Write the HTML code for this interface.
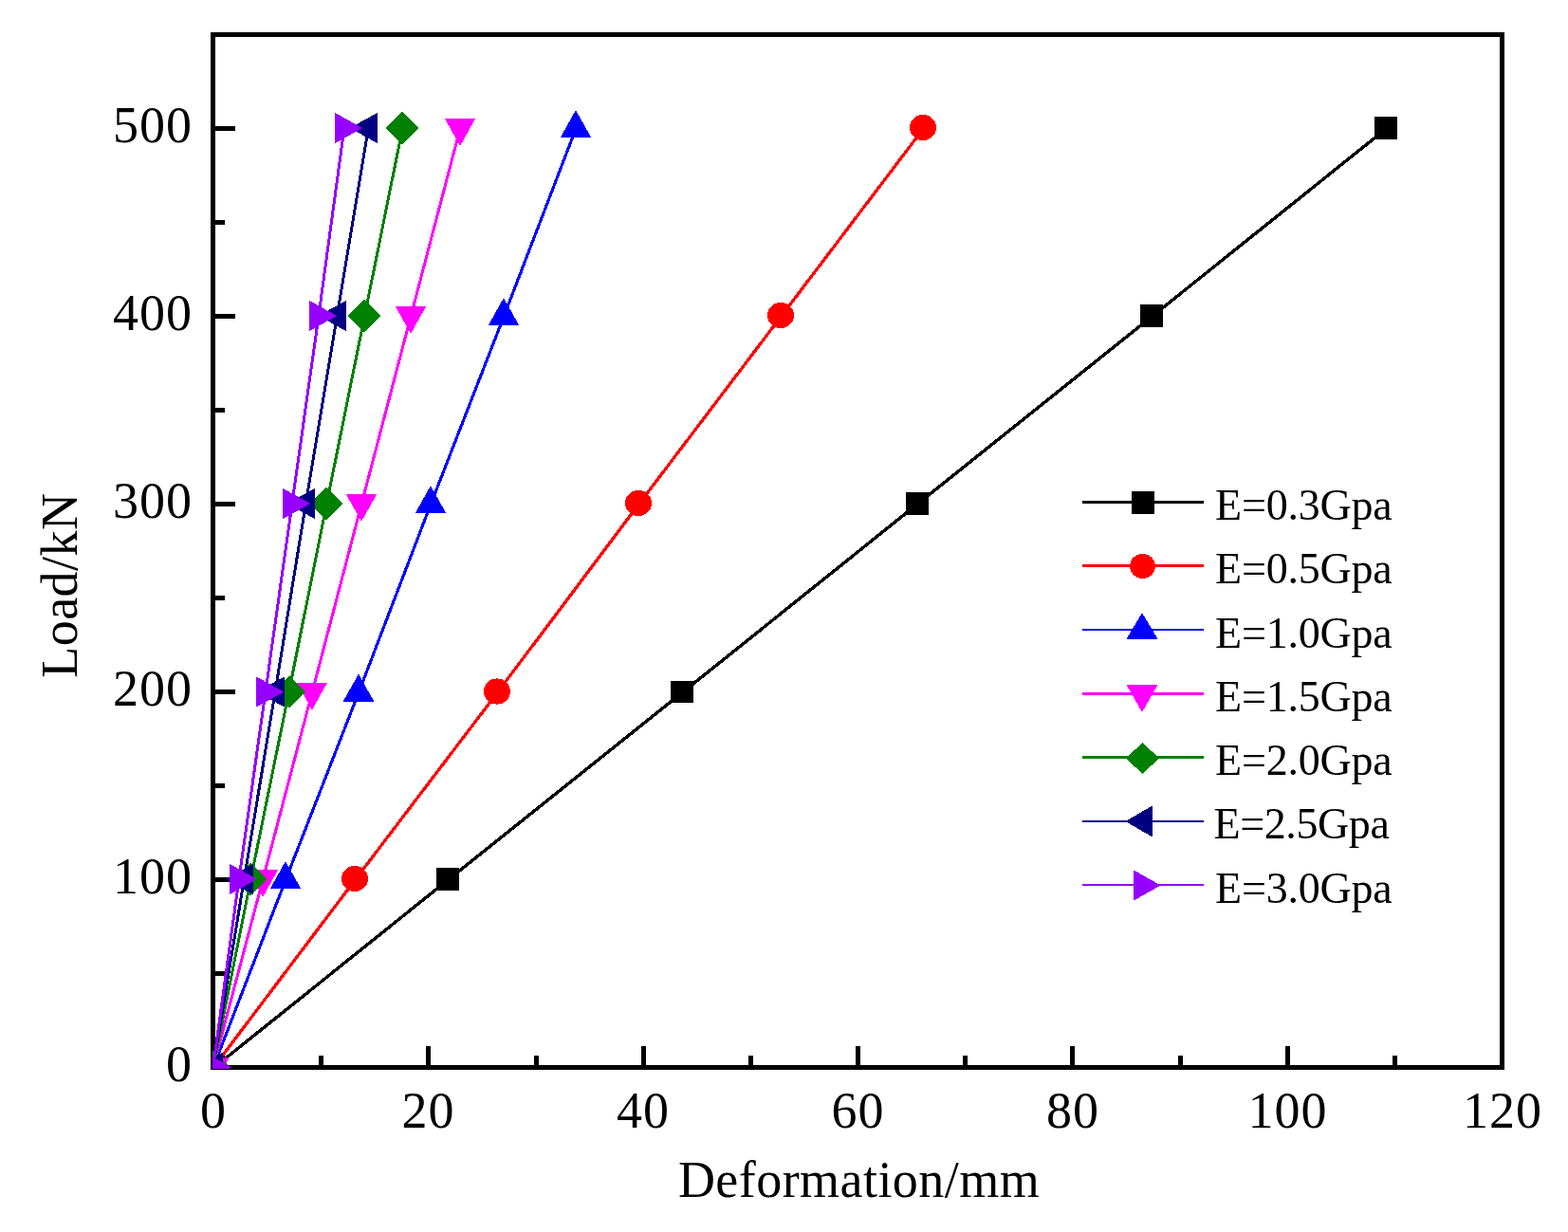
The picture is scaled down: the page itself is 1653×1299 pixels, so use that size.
<!DOCTYPE html>
<html lang="en">
<head>
<meta charset="utf-8">
<title>Load-deformation curves</title>
<style>
html,body{margin:0;padding:0;background:#fff;}
body{width:1653px;height:1299px;overflow:hidden;}
svg{display:block;}
text{font-family:"Liberation Serif","Times New Roman",serif;fill:#000;}
.t{font-size:54px;letter-spacing:1px;}
.a{font-size:54px;letter-spacing:0.45px;}
.g{font-size:46px;letter-spacing:-0.2px;}
</style>
</head>
<body>
<svg width="1653" height="1299" viewBox="0 0 1653 1299">
<rect x="0" y="0" width="1653" height="1299" fill="#ffffff"/>
<g stroke="#000" stroke-width="5" fill="none" shape-rendering="crispEdges">
<rect x="224.5" y="36.5" width="1359" height="1089"/>
<line x1="338.67" y1="1113" x2="338.67" y2="1124"/>
<line x1="451.83" y1="1103" x2="451.83" y2="1124"/>
<line x1="565" y1="1113" x2="565" y2="1124"/>
<line x1="678.17" y1="1103" x2="678.17" y2="1124"/>
<line x1="791.33" y1="1113" x2="791.33" y2="1124"/>
<line x1="904.5" y1="1103" x2="904.5" y2="1124"/>
<line x1="1017.67" y1="1113" x2="1017.67" y2="1124"/>
<line x1="1130.83" y1="1103" x2="1130.83" y2="1124"/>
<line x1="1244" y1="1113" x2="1244" y2="1124"/>
<line x1="1357.17" y1="1103" x2="1357.17" y2="1124"/>
<line x1="1470.33" y1="1113" x2="1470.33" y2="1124"/>
<line x1="226" y1="1026.5" x2="237" y2="1026.5"/>
<line x1="226" y1="927.5" x2="248" y2="927.5"/>
<line x1="226" y1="828.5" x2="237" y2="828.5"/>
<line x1="226" y1="729.5" x2="248" y2="729.5"/>
<line x1="226" y1="630.5" x2="237" y2="630.5"/>
<line x1="226" y1="531.5" x2="248" y2="531.5"/>
<line x1="226" y1="432.5" x2="237" y2="432.5"/>
<line x1="226" y1="333.5" x2="248" y2="333.5"/>
<line x1="226" y1="234.5" x2="237" y2="234.5"/>
<line x1="226" y1="135.5" x2="248" y2="135.5"/>
</g>
<defs><clipPath id="plotclip"><rect x="224" y="0" width="1429" height="1127"/></clipPath></defs>
<g class="m" clip-path="url(#plotclip)" shape-rendering="crispEdges">
<polyline points="224.5,1126.56 472.3,927.76 719.3,730.26 966.8,531.76 1214.3,333.76 1461.3,135.76" fill="none" stroke="#000000" stroke-width="3.4"/>
<rect x="213.2" y="1113.4" width="24" height="23.5" fill="#000000"/>
<rect x="460" y="915" width="24" height="23.5" fill="#000000"/>
<rect x="707" y="717.5" width="24" height="23.5" fill="#000000"/>
<rect x="954.5" y="519" width="24" height="23.5" fill="#000000"/>
<rect x="1202" y="321" width="24" height="23.5" fill="#000000"/>
<rect x="1449" y="123" width="24" height="23.5" fill="#000000"/>
<polyline points="224.5,1126.3 374.55,927.5 524.55,730 673.55,531.5 823.55,333.5 973.55,135.5" fill="none" stroke="#ff0000" stroke-width="3.3"/>
<ellipse cx="225.2" cy="1124.9" rx="14" ry="13.6" fill="#ff0000"/>
<ellipse cx="374" cy="926.5" rx="14" ry="13.6" fill="#ff0000"/>
<ellipse cx="524" cy="729" rx="14" ry="13.6" fill="#ff0000"/>
<ellipse cx="673" cy="530.5" rx="14" ry="13.6" fill="#ff0000"/>
<ellipse cx="823" cy="332.5" rx="14" ry="13.6" fill="#ff0000"/>
<ellipse cx="973" cy="134.5" rx="14" ry="13.6" fill="#ff0000"/>
<polyline points="224.5,1126.3 301.2,927.5 378.2,730 454.2,531.5 531.2,333.5 607.2,135.5" fill="none" stroke="#0000ff" stroke-width="3.1"/>
<polygon points="225.2,1106.4 241.4,1135.4 209,1135.4" fill="#0000ff"/>
<polygon points="301,908 317.2,937 284.8,937" fill="#0000ff"/>
<polygon points="378,710.5 394.2,739.5 361.8,739.5" fill="#0000ff"/>
<polygon points="454,512 470.2,541 437.8,541" fill="#0000ff"/>
<polygon points="531,314 547.2,343 514.8,343" fill="#0000ff"/>
<polygon points="607,116 623.2,145 590.8,145" fill="#0000ff"/>
<polyline points="224.5,1126.3 277.1,927.5 329.1,730 381.1,531.5 433.1,333.5 485.1,135.5" fill="none" stroke="#ff00ff" stroke-width="3"/>
<polygon points="225.2,1144.4 241.4,1115.4 209,1115.4" fill="#ff00ff"/>
<polygon points="277,946 293.2,917 260.8,917" fill="#ff00ff"/>
<polygon points="329,748.5 345.2,719.5 312.8,719.5" fill="#ff00ff"/>
<polygon points="381,550 397.2,521 364.8,521" fill="#ff00ff"/>
<polygon points="433,352 449.2,323 416.8,323" fill="#ff00ff"/>
<polygon points="485,154 501.2,125 468.8,125" fill="#ff00ff"/>
<polyline points="224.5,1126.3 264.3,927.5 304.5,730 344.3,531.5 384.3,333.5 424.3,135.5" fill="none" stroke="#008000" stroke-width="3"/>
<polygon points="225.2,1108 242.6,1125.4 225.2,1142.8 207.8,1125.4" fill="#008000"/>
<polygon points="264,909.6 281.4,927 264,944.4 246.6,927" fill="#008000"/>
<polygon points="305,712.1 322.4,729.5 305,746.9 287.6,729.5" fill="#008000"/>
<polygon points="344,513.6 361.4,531 344,548.4 326.6,531" fill="#008000"/>
<polygon points="384,315.6 401.4,333 384,350.4 366.6,333" fill="#008000"/>
<polygon points="424,117.6 441.4,135 424,152.4 406.6,135" fill="#008000"/>
<polyline points="224.5,1126.3 257.3,927.5 290,730 322.3,531.5 355.3,333.5 388.3,135.5" fill="none" stroke="#000080" stroke-width="3"/>
<polygon points="206,1125.4 235.2,1109.2 235.2,1141.6" fill="#000080"/>
<polygon points="237.8,927 267,910.8 267,943.2" fill="#000080"/>
<polygon points="270.8,729.5 300,713.3 300,745.7" fill="#000080"/>
<polygon points="302.8,531 332,514.8 332,547.2" fill="#000080"/>
<polygon points="335.8,333 365,316.8 365,349.2" fill="#000080"/>
<polygon points="368.8,135 398,118.8 398,151.2" fill="#000080"/>
<polyline points="224.5,1126.3 251.85,927.5 279.85,730 307.85,531.5 335.85,333.5 362.85,135.5" fill="none" stroke="#9600ff" stroke-width="3"/>
<polygon points="244.4,1125.4 215.2,1109.2 215.2,1141.6" fill="#9600ff"/>
<polygon points="271.2,927 242,910.8 242,943.2" fill="#9600ff"/>
<polygon points="299.2,729.5 270,713.3 270,745.7" fill="#9600ff"/>
<polygon points="327.2,531 298,514.8 298,547.2" fill="#9600ff"/>
<polygon points="355.2,333 326,316.8 326,349.2" fill="#9600ff"/>
<polygon points="382.2,135 353,118.8 353,151.2" fill="#9600ff"/>
</g>
<g class="t" text-anchor="end">
<text x="203" y="1140">0</text>
<text x="203" y="942">100</text>
<text x="203" y="744">200</text>
<text x="203" y="546">300</text>
<text x="203" y="348">400</text>
<text x="203" y="150">500</text>
</g>
<g class="t" text-anchor="middle">
<text x="225" y="1189">0</text>
<text x="451.5" y="1189">20</text>
<text x="678" y="1189">40</text>
<text x="904.5" y="1189">60</text>
<text x="1131" y="1189">80</text>
<text x="1357.5" y="1189">100</text>
<text x="1584" y="1189">120</text>
</g>
<g class="a" text-anchor="middle">
<text x="905.5" y="1261.5">Deformation/mm</text>
<text transform="translate(81 617.2) rotate(-90)" x="0" y="0">Load/kN</text>
</g>
<g class="m" shape-rendering="crispEdges">
<line x1="1141" y1="529.5" x2="1269" y2="529.5" stroke="#000000" stroke-width="3"/>
<line x1="1141" y1="596.5" x2="1269" y2="596.5" stroke="#ff0000" stroke-width="3"/>
<line x1="1141" y1="664" x2="1269" y2="664" stroke="#0000ff" stroke-width="2"/>
<line x1="1141" y1="731.5" x2="1269" y2="731.5" stroke="#ff00ff" stroke-width="3"/>
<line x1="1141" y1="798.5" x2="1269" y2="798.5" stroke="#008000" stroke-width="3"/>
<line x1="1141" y1="866" x2="1269" y2="866" stroke="#000080" stroke-width="2"/>
<line x1="1141" y1="933" x2="1269" y2="933" stroke="#9600ff" stroke-width="2"/>
<rect x="1193" y="518" width="24" height="24" fill="#000000"/>
<ellipse cx="1204.5" cy="597" rx="13.4" ry="13.1" fill="#ff0000"/>
<polygon points="1204,646 1220.6,674 1187.4,674" fill="#0000ff"/>
<polygon points="1204,751 1220.6,722 1187.4,722" fill="#ff00ff"/>
<polygon points="1204.5,782.6 1221.6,799.5 1204.5,816.4 1187.4,799.5" fill="#008000"/>
<polygon points="1186.3,866 1215,849.4 1215,882.6" fill="#000080"/>
<polygon points="1223.7,933.5 1195,917.4 1195,949.6" fill="#9600ff"/>
</g>
<g class="g">
<text x="1281" y="548">E=0.3Gpa</text>
<text x="1281" y="615.25">E=0.5Gpa</text>
<text x="1281" y="682.5">E=1.0Gpa</text>
<text x="1281" y="749.75">E=1.5Gpa</text>
<text x="1281" y="817">E=2.0Gpa</text>
<text x="1279.5" y="884.25" style="letter-spacing:-0.4px">E=2.5Gpa</text>
<text x="1281" y="951.5">E=3.0Gpa</text>
</g>
</svg>
</body>
</html>
